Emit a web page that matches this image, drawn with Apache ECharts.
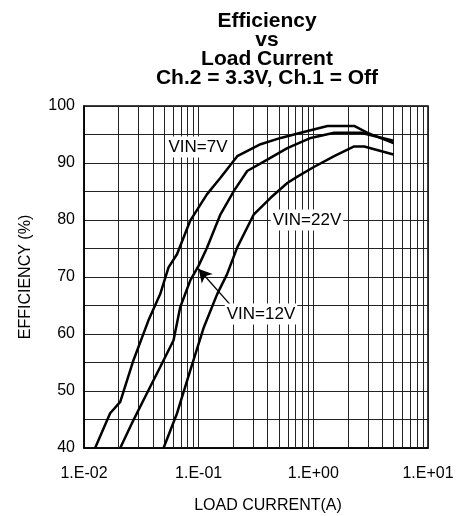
<!DOCTYPE html>
<html>
<head>
<meta charset="utf-8">
<script src="https://cdn.jsdelivr.net/npm/echarts@6/dist/echarts.min.js"></script>
<style>
html,body{margin:0;padding:0;background:#fff;}
#chart{width:457px;height:516px;}
</style>
</head>
<body>
<div id="chart"></div>
<script>
// ---- data ----
const titleText = 'Efficiency\nvs\nLoad Current\nCh.2 = 3.3V, Ch.1 = Off';
const xAxisName = 'LOAD CURRENT(A)';
const yAxisName = 'EFFICIENCY (%)';

const vin7X  = [0.0125, 0.0169, 0.0207, 0.027, 0.0365, 0.0462, 0.0546, 0.0647, 0.0845, 0.118, 0.155, 0.217, 0.347, 0.519, 0.776, 1.33, 2.27, 2.97, 5.0];
const vin7Y  = [40, 46.1, 48.1, 55.4, 62.4, 67.0, 71.7, 74.0, 79.9, 84.5, 87.4, 91.2, 93.3, 94.4, 95.3, 96.5, 96.5, 95.3, 93.5];

const vin12X = [0.0207, 0.027, 0.0354, 0.0462, 0.0604, 0.069, 0.0845, 0.1, 0.118, 0.155, 0.203, 0.265, 0.397, 0.593, 0.949, 1.52, 2.6, 5.0];
const vin12Y = [40, 44.9, 49.6, 54.2, 58.9, 64.7, 69.4, 72.0, 75.1, 81.0, 85.1, 88.6, 90.6, 92.6, 94.4, 95.3, 95.3, 93.9];

const vin22X = [0.0494, 0.0648, 0.0845, 0.111, 0.145, 0.177, 0.217, 0.303, 0.424, 0.593, 0.726, 1.01, 1.52, 2.27, 2.78, 5.0];
const vin22Y = [40, 46.1, 53.6, 61.2, 67.0, 70.5, 75.2, 81.0, 83.9, 86.5, 87.6, 89.3, 91.2, 92.9, 92.9, 91.5];

const seriesNames = ['VIN=7V', 'VIN=12V', 'VIN=22V'];
const xMin = 0.01, xMax = 10, yMin = 40, yMax = 100, yStep = 5;
const decades = [0.01, 0.1, 1];
const minorMultipliers = [2, 3, 4, 5, 6, 7, 8, 9];
// arrow for VIN=12V label: tail and head in data units
const arrowTail = [0.189, 65.1];
const arrowHead = [0.1, 71.4];

// ---- build ----
function pairs(xs, ys){ return xs.map((x,i)=>[x, ys[i]]); }
const minorLines = [];
decades.forEach(d => minorMultipliers.forEach(m => minorLines.push({xAxis: +(d*m).toPrecision(3)})));

function fmtX(v){
  const e = Math.round(Math.log10(v));
  return '1.E' + (e < 0 ? '-' : '+') + String(Math.abs(e)).padStart(2, '0');
}

const font = '"Liberation Sans", Arial, Helvetica, sans-serif';
const lineStyle = {color:'#000', width:2.5};

const chart = echarts.init(document.getElementById('chart'), null, {renderer:'canvas'});
chart.setOption({
  animation:false,
  backgroundColor:'#fff',
  textStyle:{fontFamily:font, color:'#000'},
  title:{
    text:titleText,
    left:262, top:7, textAlign:'center',
    textStyle:{fontFamily:font, fontSize:21, fontWeight:'bold', lineHeight:19, color:'#000'}
  },
  grid:{left:84, right:29, top:106, bottom:68, containLabel:false, outerBoundsMode:'none',
    show:true, borderColor:'#000', borderWidth:1.5, backgroundColor:'transparent'},
  xAxis:{
    type:'log', logBase:10, min:xMin, max:xMax,
    name:xAxisName, nameLocation:'middle', nameGap:50,
    nameTextStyle:{fontFamily:font, fontSize:16, color:'#000', padding:[0,0,0,24]},
    axisLine:{show:true, lineStyle:{color:'#000', width:1.5}},
    axisTick:{show:false},
    axisLabel:{formatter:fmtX, fontFamily:font, fontSize:16, color:'#000', margin:18},
    splitLine:{show:true, lineStyle:{color:'#222', width:1}}
  },
  yAxis:{
    type:'value', min:yMin, max:yMax, interval:yStep,
    name:yAxisName, nameLocation:'middle', nameGap:50, nameRotate:90,
    nameTextStyle:{fontFamily:font, fontSize:16, color:'#000'},
    axisLine:{show:true, lineStyle:{color:'#000', width:1.5}},
    axisTick:{show:false},
    axisLabel:{formatter:v => (v % 10 === 0 ? String(v) : ''), fontFamily:font, fontSize:16, color:'#000', margin:9},
    splitLine:{show:true, lineStyle:{color:'#222', width:1}}
  },
  series:[
    {
      type:'line', name:'grid-minor', data:[], silent:true, z:1,
      markLine:{silent:true, symbol:'none', label:{show:false},
        lineStyle:{color:'#222', width:1, type:'solid'}, emphasis:{disabled:true},
        data:minorLines}
    },
    {type:'line', name:seriesNames[0], data:pairs(vin7X, vin7Y), showSymbol:false, symbol:'none', lineStyle:lineStyle, z:5},
    {type:'line', name:seriesNames[1], data:pairs(vin12X, vin12Y), showSymbol:false, symbol:'none', lineStyle:lineStyle, z:5,
      markLine:{silent:true, symbol:['none','arrow'], symbolSize:[11,13], label:{show:false},
        lineStyle:{color:'#000', width:1.3, type:'solid'}, emphasis:{disabled:true},
        data:[[{coord:arrowTail},{coord:arrowHead}]]}
    },
    {type:'line', name:seriesNames[2], data:pairs(vin22X, vin22Y), showSymbol:false, symbol:'none', lineStyle:lineStyle, z:5}
  ],
  graphic:[
    {type:'text', z:100, x:198, y:147, style:{text:seriesNames[0], font:'17px '+font, fill:'#000', align:'center', verticalAlign:'middle', backgroundColor:'#fff', padding:[2,2]}},
    {type:'text', z:100, x:307, y:220, style:{text:seriesNames[2], font:'17px '+font, fill:'#000', align:'center', verticalAlign:'middle', backgroundColor:'#fff', padding:[2,2]}},
    {type:'text', z:100, x:261, y:314, style:{text:seriesNames[1], font:'17px '+font, fill:'#000', align:'center', verticalAlign:'middle', backgroundColor:'#fff', padding:[2,2]}}
  ]
});
</script>
</body>
</html>
